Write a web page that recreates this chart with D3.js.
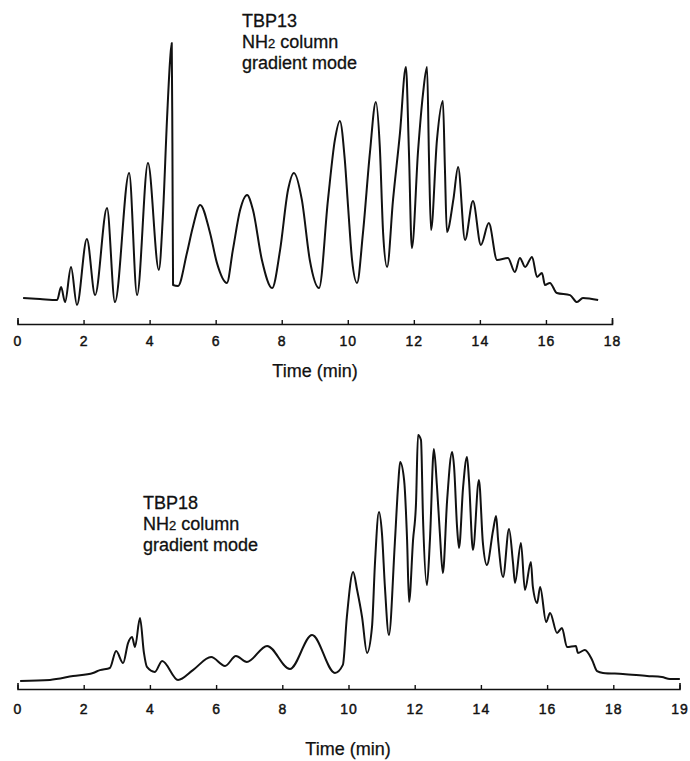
<!DOCTYPE html>
<html>
<head>
<meta charset="utf-8">
<script src="https://cdn.jsdelivr.net/npm/d3@7"></script>
<style>
  html, body { margin: 0; padding: 0; background: #fff; }
  svg { display: block; }
  text { font-family: "Liberation Sans", Arial, Helvetica, sans-serif; fill: #111; }
</style>
</head>
<body>
<svg id="chart" width="690" height="761"></svg>
<script>
// ---------- DATA ----------
// Chromatogram 1: TBP13, time in minutes, detector response in arbitrary units (0-100)
const topTime = [0.17,0.68,1.20,1.32,1.44,1.62,1.80,2.10,2.35,2.71,2.95,3.38,3.62,3.95,4.28,4.40,4.53,4.62,4.67,4.69,4.71,4.86,5.13,5.31,5.53,5.83,6.04,6.34,6.52,6.74,6.95,7.13,7.40,7.71,7.95,8.19,8.37,8.61,8.85,9.13,9.40,9.61,9.76,9.91,10.01,10.13,10.28,10.46,10.67,10.85,10.97,11.07,11.19,11.37,11.58,11.76,11.85,11.94,12.13,12.28,12.40,12.46,12.52,12.70,12.88,12.94,13.00,13.20,13.34,13.55,13.79,14.03,14.27,14.52,14.85,15.06,15.21,15.37,15.58,15.73,15.88,15.97,16.12,16.33,16.73,16.94,17.12,17.58];
const topSignal = [0.4,0,-0.4,4.6,-1.2,12.3,-2.3,23.1,1.5,35.0,-1.2,48.5,1.5,52.3,11.2,31.5,70.0,91.9,98.5,60,5.4,5.0,17.7,27.7,36.2,25.4,13.8,6.2,18.8,34.2,40.0,34.2,15.0,4.2,18.8,41.9,48.5,38.1,15.0,4.2,38.1,61.2,68.5,53.5,35.4,15.0,6.2,25.4,56.2,75.8,58.5,25.4,12.3,38.1,63.8,89.2,57.3,19.6,57.3,79.2,89.2,53.5,26.5,61.2,76.2,50.8,25.8,38.5,50.8,22.7,37.7,20.8,29.2,15.0,15.8,10.4,15.8,12.3,16.2,8.5,10.0,5.4,6.2,2.3,1.5,-1.2,0.4,-0.4];

// Chromatogram 2: TBP18
const bottomTime = [0.08,0.98,1.68,2.28,2.49,2.79,2.98,3.19,3.34,3.46,3.55,3.70,3.82,3.91,4.15,4.37,4.85,5.30,5.85,6.27,6.60,6.93,7.54,8.23,8.90,9.59,9.83,9.95,10.14,10.26,10.41,10.56,10.71,10.80,10.92,11.01,11.10,11.22,11.40,11.50,11.56,11.68,11.77,11.83,11.95,12.04,12.10,12.19,12.25,12.37,12.46,12.58,12.67,12.76,12.85,12.98,13.13,13.19,13.28,13.34,13.46,13.58,13.64,13.76,13.94,14.06,14.18,14.37,14.46,14.52,14.67,14.85,14.97,15.03,15.21,15.33,15.51,15.57,15.70,15.79,15.97,16.09,16.30,16.45,16.60,16.87,16.93,17.14,17.36,17.51,17.69,18.29,19.02,19.47,19.71,20.01];
const bottomSignal = [0,0.4,1.9,3.1,4.2,5.0,11.5,6.9,14.6,16.9,13.1,24.2,10.8,5.4,3.5,7.7,0.4,4.2,9.2,5.8,9.6,7.3,13.5,4.6,17.7,3.1,6.2,24.6,41.9,35.0,24.6,10.8,20.8,45.4,65.0,56.9,36.2,17.7,53.1,75.4,84.2,77.3,54.2,30.4,54.2,68.5,94.6,92.7,63.1,36.9,54.2,89.2,75.4,56.9,41.5,69.6,88.1,82.3,59.2,51.2,74.2,86.2,77.3,50.4,77.3,53.1,44.6,58.1,63.5,54.2,40.0,58.5,45.4,37.7,53.1,35.0,45.8,36.2,30.0,36.2,22.7,26.2,18.5,20.4,13.1,13.5,10.8,11.9,8.1,3.8,3.1,2.7,1.9,1.5,0.8,0.8];

// Axes
const topTicks = [0,2,4,6,8,10,12,14,16,18];
const topTickLabels = ["0","2","4","6","8","10","12","14","16","18"];
const bottomTicks = [0,2,4,6,8,10,12,14,16,18,20];
const bottomTickLabels = ["0","2","4","6","8","10","12","14","16","18","19"];
const axisTitle = "Time (min)";
const topNote = ["TBP13", "NH2 column", "gradient mode"];
const bottomNote = ["TBP18", "NH2 column", "gradient mode"];

// ---------- DRAWING ----------
const svg = d3.select("#chart");

function panel(cfg) {
  const x = d3.scaleLinear().domain(cfg.xDomain).range(cfg.xRange);
  const y = d3.scaleLinear().domain([0, 100]).range(cfg.yRange);
  const g = svg.append("g");

  const data = cfg.time.map((t, i) => [t, cfg.signal[i]]);
  const line = d3.line()
    .x(d => x(d[0]))
    .y(d => y(d[1]))
    .curve(d3.curveMonotoneX);
  g.append("path")
    .datum(data)
    .attr("d", line)
    .attr("fill", "none")
    .attr("stroke", "#111")
    .attr("stroke-width", 2)
    .attr("stroke-linejoin", "round");

  const axis = d3.axisBottom(x)
    .tickValues(cfg.ticks)
    .tickFormat((d, i) => cfg.tickLabels[i])
    .tickSizeInner(-4)
    .tickSizeOuter(-6)
    .tickPadding(cfg.tickPad);
  const ag = g.append("g")
    .attr("transform", `translate(0,${cfg.axisY})`)
    .call(axis);
  ag.select(".domain").attr("stroke", "#111").attr("stroke-width", 1.6);
  ag.selectAll(".tick line").attr("stroke", "#111").attr("stroke-width", 1.4);
  ag.selectAll(".tick text")
    .attr("fill", "#111")
    .attr("stroke", "#111")
    .attr("stroke-width", 0.45)
    .style("font-size", "14px")
    .style("letter-spacing", "1px")
    .style("font-family", "'Liberation Sans', Arial, sans-serif");

  g.append("text")
    .attr("x", cfg.titleX)
    .attr("y", cfg.titleY)
    .attr("text-anchor", "middle")
    .attr("stroke", "#111")
    .attr("stroke-width", 0.25)
    .style("font-size", "18px")
    .text(axisTitle);

  const note = g.append("text")
    .attr("x", cfg.noteX)
    .attr("y", cfg.noteY)
    .attr("stroke", "#111")
    .attr("stroke-width", 0.3)
    .style("font-size", "18px");
  cfg.note.forEach((s, i) => {
    const line = note.append("tspan")
      .attr("x", cfg.noteX)
      .attr("y", cfg.noteY + i * 21);
    if (s.startsWith("NH2")) {
      line.append("tspan").text("NH");
      line.append("tspan").style("font-size", "13px").text("2");
      line.append("tspan").text(s.slice(3));
    } else {
      line.text(s);
    }
  });
}

panel({
  time: topTime, signal: topSignal,
  xDomain: [0, 18], xRange: [17.5, 612],
  yRange: [299, 39],
  axisY: 324, tickPad: 12,
  ticks: topTicks, tickLabels: topTickLabels,
  titleX: 315, titleY: 377,
  note: topNote, noteX: 242, noteY: 27
});

panel({
  time: bottomTime, signal: bottomSignal,
  xDomain: [0, 20], xRange: [17.5, 679.5],
  yRange: [681, 421],
  axisY: 689, tickPad: 15,
  ticks: bottomTicks, tickLabels: bottomTickLabels,
  titleX: 348, titleY: 755,
  note: bottomNote, noteX: 143, noteY: 509
});
</script>
</body>
</html>
